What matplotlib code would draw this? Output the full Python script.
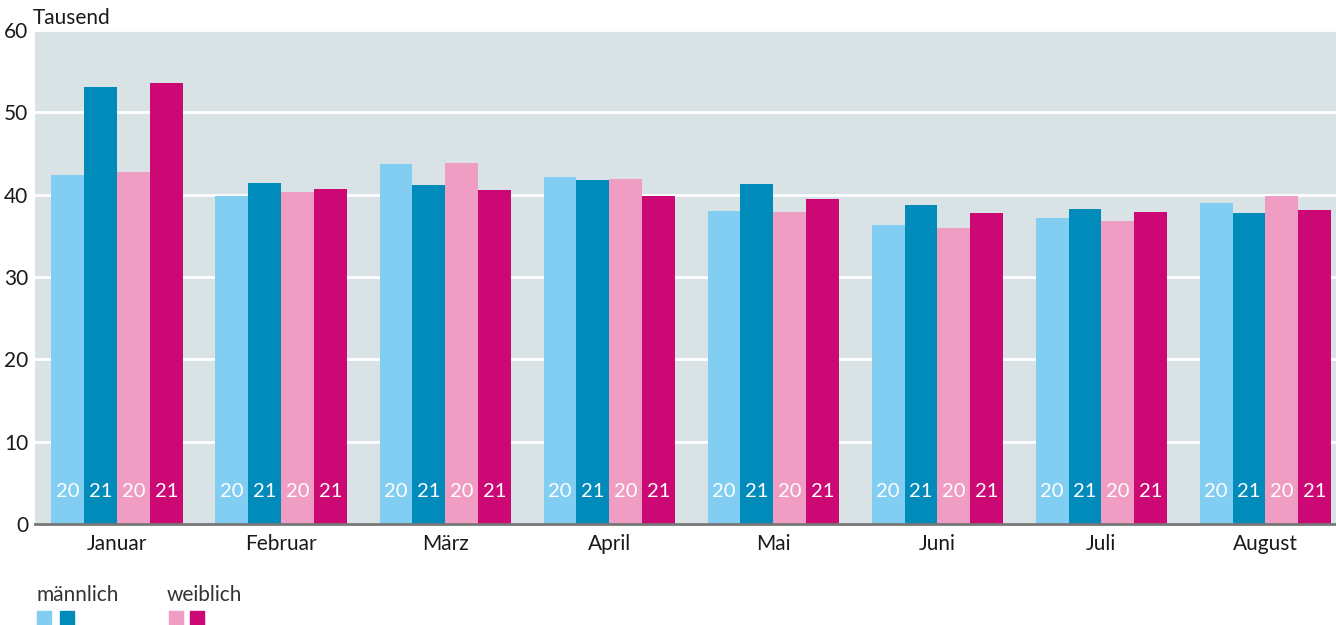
import matplotlib.pyplot as plt
import matplotlib.patches as mpatches
import numpy as np

plt.rcParams['font.family'] = ['Lato', 'DejaVu Sans']

months = ["Januar", "Februar", "März", "April", "Mai", "Juni", "Juli", "August"]
m2020 = [42.4, 39.8, 43.7, 42.1, 38.0, 36.3, 37.2, 39.0]
m2021 = [53.1, 41.4, 41.2, 41.8, 41.3, 38.7, 38.3, 37.8]
w2020 = [42.8, 40.3, 43.8, 41.9, 37.9, 36.0, 36.8, 39.8]
w2021 = [53.6, 40.7, 40.6, 39.8, 39.5, 37.8, 37.9, 38.1]
series = [m2020, m2021, w2020, w2021]
year_labels = ["20", "21", "20", "21"]
colors = ["#82cef3", "#008bbb", "#f09dc4", "#cb0873"]

fig = plt.figure(figsize=(13.36, 6.25), dpi=100)
ax = fig.add_axes([35 / 1336, 101 / 625, 1 - 35 / 1336, 494 / 625])
ax.set_facecolor("#d9e2e4")

x = np.arange(len(months))
w = 0.2
for i, (vals, col) in enumerate(zip(series, colors)):
    pos = x + (i - 1.5) * w
    ax.bar(pos, vals, width=w, color=col, zorder=3)
    for p in pos:
        ax.text(p, 3.9, year_labels[i], color="white", ha="center", va="center",
                fontsize=14.5, zorder=4)

ax.set_ylim(0, 60)
ax.set_xlim(-0.5, 7.43)
ax.set_yticks(range(0, 61, 10))
ax.grid(axis="y", color="white", linewidth=2, zorder=1)
ax.set_xticks(x)
ax.set_xticklabels(months)
ax.tick_params(axis="both", length=0, labelsize=15, colors="#1a1a1a")
ax.tick_params(axis="x", pad=7)
ax.tick_params(axis="y", pad=5)
for s in ["top", "right", "left"]:
    ax.spines[s].set_visible(False)
ax.spines["bottom"].set_color("#777777")
ax.spines["bottom"].set_linewidth(2)
ax.spines["bottom"].set_zorder(5)

fig.text(33 / 1336, 1 - 18 / 625, "Tausend", fontsize=15, va="center", ha="left", color="#1a1a1a")

# legend
fig.text(36 / 1336, 1 - 595 / 625, "männlich", fontsize=15, va="center", ha="left", color="#333333")
fig.text(167 / 1336, 1 - 595 / 625, "weiblich", fontsize=15, va="center", ha="left", color="#333333")
for px, col in zip([37, 60, 169, 190], colors):
    fig.patches.append(mpatches.Rectangle((px / 1336, 0), 14 / 1336, 14 / 625,
                                          transform=fig.transFigure, color=col))

fig.savefig("out.png", dpi=100)
